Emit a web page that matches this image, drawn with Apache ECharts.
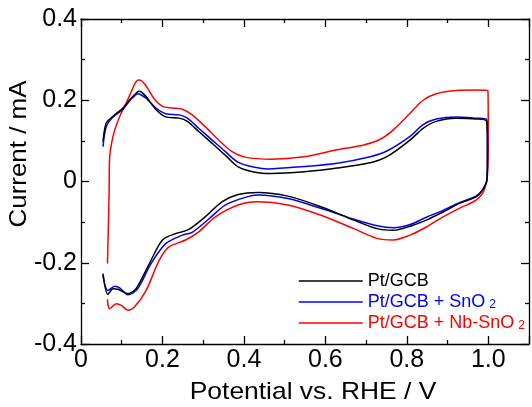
<!DOCTYPE html>
<html>
<head>
<meta charset="utf-8">
<script src="https://cdn.jsdelivr.net/npm/echarts@6/dist/echarts.min.js"></script>
<style>
html,body{margin:0;padding:0;background:#fff;}
#chart{width:532px;height:407px;}
</style>
</head>
<body>
<div id="chart"></div>
<script>
// ---- data (Potential / V vs. RHE, Current / mA) ----
const seriesNames = ['Pt/GCB', 'Pt/GCB + SnO2', 'Pt/GCB + Nb-SnO2'];
const seriesColors = ['#000000', '#0000ff', '#ff0000'];

// Pt/GCB: anodic sweep (left to right), then cathodic sweep (right to left)
const blackX = [0.054,0.062,0.078,0.103,0.123,0.134,0.142,0.15,0.16,0.184,0.208,0.241,0.261,0.289,0.322,0.354,0.386,0.427,0.467,0.548,0.629,0.71,0.751,0.808,0.84,0.872,0.921,0.97,0.996,
  0.998,0.997,0.986,0.97,0.929,0.889,0.848,0.808,0.767,0.727,0.67,0.589,0.508,0.435,0.386,0.346,0.305,0.265,0.233,0.2,0.168,0.135,0.115,0.091,0.079,0.066,0.054];
const blackY = [0.098,0.144,0.16,0.181,0.205,0.216,0.222,0.219,0.209,0.177,0.159,0.156,0.148,0.123,0.094,0.065,0.036,0.023,0.02,0.024,0.033,0.046,0.061,0.102,0.131,0.148,0.156,0.154,0.148,
  0.086,0.004,-0.021,-0.038,-0.054,-0.075,-0.095,-0.11,-0.12,-0.116,-0.095,-0.062,-0.036,-0.027,-0.032,-0.05,-0.087,-0.118,-0.128,-0.144,-0.202,-0.264,-0.276,-0.265,-0.264,-0.278,-0.227];

// Pt/GCB + SnO2
const blueX = [0.054,0.062,0.078,0.103,0.123,0.132,0.14,0.148,0.16,0.184,0.208,0.241,0.261,0.289,0.322,0.354,0.386,0.427,0.459,0.548,0.629,0.71,0.751,0.808,0.84,0.872,0.921,0.97,0.996,
  0.998,0.997,0.986,0.97,0.929,0.889,0.848,0.808,0.767,0.727,0.67,0.589,0.508,0.435,0.403,0.354,0.313,0.273,0.249,0.208,0.172,0.139,0.115,0.095,0.083,0.066,0.054];
const blueY = [0.086,0.135,0.158,0.178,0.203,0.211,0.216,0.213,0.205,0.181,0.167,0.164,0.156,0.131,0.102,0.074,0.047,0.035,0.031,0.037,0.045,0.061,0.075,0.111,0.14,0.154,0.159,0.156,0.153,
  0.09,0.006,-0.02,-0.036,-0.052,-0.071,-0.088,-0.106,-0.114,-0.109,-0.093,-0.066,-0.042,-0.033,-0.039,-0.058,-0.093,-0.125,-0.132,-0.153,-0.202,-0.264,-0.279,-0.262,-0.258,-0.268,-0.231];

// Pt/GCB + Nb-SnO2
const redX = [0.065,0.069,0.07,0.075,0.083,0.095,0.111,0.124,0.133,0.141,0.149,0.158,0.167,0.18,0.2,0.224,0.249,0.273,0.305,0.338,0.37,0.403,0.467,0.548,0.629,0.694,0.735,0.767,0.808,0.84,0.872,0.921,0.97,0.999,
  1.0,0.999,0.99,0.97,0.929,0.889,0.848,0.808,0.767,0.727,0.67,0.589,0.508,0.435,0.386,0.33,0.289,0.257,0.216,0.192,0.16,0.131,0.115,0.099,0.087,0.07,0.066,0.065];
const redY = [-0.202,-0.029,0.053,0.094,0.127,0.16,0.193,0.222,0.242,0.25,0.248,0.238,0.224,0.203,0.185,0.181,0.178,0.164,0.135,0.102,0.074,0.06,0.055,0.061,0.078,0.09,0.104,0.127,0.168,0.2,0.216,0.224,0.225,0.224,
  0.1,0.03,-0.021,-0.046,-0.066,-0.087,-0.112,-0.132,-0.144,-0.14,-0.116,-0.083,-0.058,-0.05,-0.058,-0.087,-0.124,-0.144,-0.161,-0.194,-0.268,-0.309,-0.317,-0.305,-0.301,-0.313,-0.301,-0.29];

const xTicks = [0, 0.2, 0.4, 0.6, 0.8, 1.0];
const yTicks = [-0.4, -0.2, 0, 0.2, 0.4];
const xTitle = 'Potential vs. RHE / V';
const yTitle = 'Current / mA';

// ---- build ----
const FONT = 'Liberation Sans, Arial, sans-serif';
const zip = (xs, ys) => xs.map((x, i) => [x, ys[i]]);
const allX = [blackX, blueX, redX];
const allY = [blackY, blueY, redY];

const chart = echarts.init(document.getElementById('chart'), null, {renderer: 'canvas'});

function fmt(v) { return Math.abs(v) < 1e-9 ? '0' : v.toFixed(1); }

function axisStyle() {
  return {
    axisLine: {show: true, onZero: false, lineStyle: {color: '#000', width: 1.3}},
    axisTick: {show: true, inside: true, length: 8, lineStyle: {color: '#000', width: 1.3}},
    minorTick: {show: true, splitNumber: 2, length: 4, lineStyle: {color: '#000', width: 1.3}},
    splitLine: {show: false},
    minorSplitLine: {show: false}
  };
}

const option = {
  animation: false,
  backgroundColor: '#fff',
  grid: {left: 81, top: 19, width: 452, height: 325, containLabel: false},
  xAxis: [
    Object.assign({
      type: 'value', min: 0, max: 1.1, interval: 0.2, position: 'bottom',
      axisLabel: {show: true, fontSize: 25, color: '#000', fontFamily: FONT, margin: 4,
        formatter: v => (xTicks.some(t => Math.abs(t - v) < 1e-6) ? fmt(v) : '')}
    }, axisStyle()),
    Object.assign({
      type: 'value', min: 0, max: 1.1, interval: 0.2, position: 'top',
      axisLabel: {show: false}
    }, axisStyle())
  ],
  yAxis: [
    Object.assign({
      type: 'value', min: -0.4, max: 0.4, interval: 0.2, position: 'left',
      axisLabel: {show: true, fontSize: 25, color: '#000', fontFamily: FONT, margin: 4,
        formatter: v => (yTicks.some(t => Math.abs(t - v) < 1e-6) ? fmt(v) : '')}
    }, axisStyle()),
    Object.assign({
      type: 'value', min: -0.4, max: 0.4, interval: 0.2, position: 'right',
      axisLabel: {show: false}
    }, axisStyle())
  ],
  legend: {
    show: true, padding: 0,
    orient: 'vertical', left: 298, top: 272,
    itemWidth: 64, itemHeight: 14, itemGap: 3,
    itemStyle: {opacity: 0},
    lineStyle: {width: 1.5},
    textStyle: {fontFamily: FONT, fontSize: 18,
      rich: {
        t: {fontSize: 18, lineHeight: 18, fontFamily: FONT},
        s: {fontSize: 12, lineHeight: 5, verticalAlign: 'bottom', fontFamily: FONT, padding: [0, 0, 0, 4]}
      }
    },
    formatter: function (name) {
      if (/O2$/.test(name)) return '{t|' + name.slice(0, -1) + '}{s|2}';
      return '{t|' + name + '}';
    },
    data: seriesNames.map((n, i) => ({
      name: n,
      textStyle: {color: seriesColors[i],
        rich: {t: {color: seriesColors[i]}, s: {color: seriesColors[i]}}}
    }))
  },
  graphic: [
    {type: 'text', x: 313, y: 392, scaleX: 1.1,
      style: {text: xTitle, font: '24px ' + FONT, fill: '#000', align: 'center', verticalAlign: 'middle'}},
    {type: 'text', x: 19, y: 154, rotation: Math.PI / 2, scaleX: 1.08,
      style: {text: yTitle, font: '24px ' + FONT, fill: '#000', align: 'center', verticalAlign: 'middle'}}
  ],
  series: seriesNames.map((n, i) => ({
    name: n, type: 'line', xAxisIndex: 0, yAxisIndex: 0,
    data: zip(allX[i], allY[i]),
    symbol: 'none', showSymbol: false, smooth: 0.3,
    lineStyle: {color: seriesColors[i], width: 1.5},
    itemStyle: {color: seriesColors[i]},
    z: 3 - i
  }))
};
chart.setOption(option);
</script>
</body>
</html>
